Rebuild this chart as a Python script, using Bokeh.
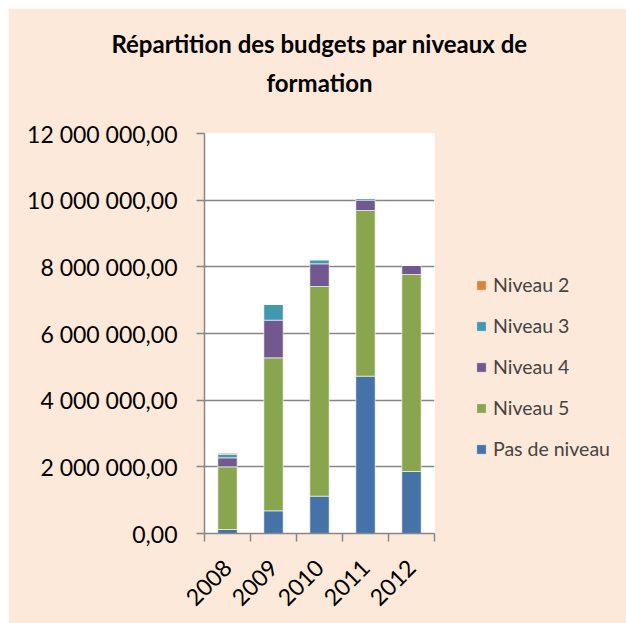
from math import pi
from bokeh.plotting import figure
from bokeh.models import (FixedTicker, Range1d, Legend, LegendItem, Title, ColumnDataSource)
from bokeh.embed import file_html
from bokeh.resources import INLINE

# ---- data ----
years = ["2008", "2009", "2010", "2011", "2012"]
pas_de_niveau = [120000, 680000, 1120000, 4720000, 1860000]
niveau_5 = [1880000, 4590000, 6290000, 4970000, 5910000]
niveau_4 = [270000, 1130000, 680000, 310000, 270000]
niveau_3 = [110000, 470000, 120000, 50000, 0]
niveau_2 = [30000, 0, 0, 0, 0]
series_names = ["Pas de niveau", "Niveau 5", "Niveau 4", "Niveau 3", "Niveau 2"]
y_tick_values = [0, 2000000, 4000000, 6000000, 8000000, 10000000, 12000000]
y_tick_labels = ["0,00", "2 000 000,00", "4 000 000,00", "6 000 000,00",
                 "8 000 000,00", "10 000 000,00", "12 000 000,00"]
title_lines = ["Répartition des budgets par niveaux de", "formation"]

colors = ["#4572A7", "#89A54E", "#71588F", "#4198AF", "#DB843D"]
FONT = "Lato"
PEACH = "#FDE9D9"
GRAY = "#868686"

xs = list(range(1, len(years) + 1))
source = ColumnDataSource(dict(
    x=xs,
    **{"Pas de niveau": pas_de_niveau, "Niveau 5": niveau_5, "Niveau 4": niveau_4,
       "Niveau 3": niveau_3, "Niveau 2": niveau_2}))

p = figure(frame_width=230, frame_height=400, output_backend="svg", toolbar_location=None,
           x_range=Range1d(0.5, len(years) + 0.5), y_range=Range1d(0, 12000000),
           min_border_left=196, min_border_right=192, min_border_top=125, min_border_bottom=90,
           title=None)
p.margin = (8, 0, 0, 8)
p.border_fill_color = PEACH
p.background_fill_color = "white"
p.outline_line_color = None

renderers = p.vbar_stack(series_names, x="x", width=0.42, source=source,
                         color=colors, line_color="white", line_alpha=0.6, line_width=1)

# axes
p.xaxis.ticker = FixedTicker(ticks=xs, minor_ticks=[x - 0.5 for x in xs] + [xs[-1] + 0.5])
p.xaxis.major_label_overrides = {x: y for x, y in zip(xs, years)}
p.xaxis.major_label_orientation = pi / 4
p.xaxis.major_label_standoff = 22
p.xaxis.major_tick_out = 0
p.xaxis.major_tick_in = 0
p.xaxis.minor_tick_out = 8
p.xaxis.minor_tick_in = 0
p.xaxis.minor_tick_line_color = GRAY
p.xaxis.minor_tick_line_width = 1.5

p.yaxis.ticker = FixedTicker(ticks=y_tick_values, minor_ticks=[])
p.yaxis.major_label_overrides = {v: l for v, l in zip(y_tick_values, y_tick_labels)}
p.yaxis.major_tick_out = 8
p.yaxis.major_tick_in = 0
p.yaxis.major_label_standoff = 19

for ax in (p.xaxis, p.yaxis):
    ax.axis_line_color = GRAY
    ax.axis_line_width = 1.5
    ax.major_tick_line_color = GRAY
    ax.major_tick_line_width = 1.5
    ax.major_label_text_font = FONT
    ax.major_label_text_font_size = "23px"
    ax.major_label_text_color = "black"

p.xgrid.grid_line_color = None
p.ygrid.grid_line_color = GRAY
p.ygrid.grid_line_width = 1.5

# legend (top to bottom reversed stacking order)
items = [LegendItem(label=n, renderers=[r]) for n, r in zip(series_names, renderers)][::-1]
legend = Legend(items=items, location=(41, 73), padding=0, margin=0,
                border_line_color=None, background_fill_alpha=0,
                glyph_width=12, glyph_height=12, label_standoff=6,
                label_text_font=FONT, label_text_font_size="19.5px",
                label_height=22, spacing=18)
p.add_layout(legend, "right")

# title: spacer closest to the plot, then line 2, then line 1
p.add_layout(Title(text=" ", standoff=20, text_font=FONT, text_font_size="10px"), "above")
for line, stand in ((title_lines[1], 6), (title_lines[0], 9)):
    p.add_layout(Title(text=line, align="center", standoff=stand, offset=3,
                       text_font=FONT, text_font_size="24px", text_font_style="bold",
                       text_color="black"), "above")

open("out.html", "w").write(file_html(p, INLINE))
